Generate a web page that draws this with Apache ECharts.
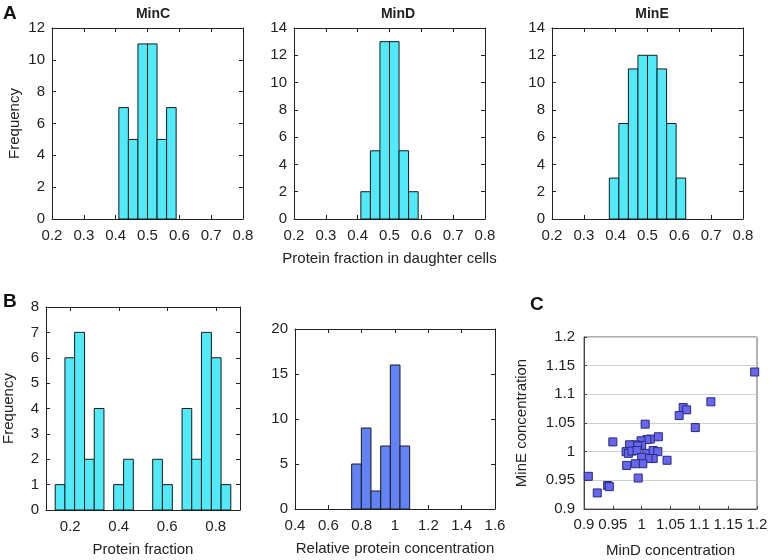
<!DOCTYPE html>
<html>
<head>
<meta charset="utf-8">
<script src="https://cdn.jsdelivr.net/npm/echarts@6/dist/echarts.min.js"></script>
<style>html,body{margin:0;padding:0;background:#fff}#c{width:771px;height:560px}</style>
</head>
<body>
<div id="c"></div>
<script>
// ---- data ----
var minCEdges = [0.41, 0.44, 0.47, 0.50, 0.53, 0.56, 0.59];
var minCCounts = [7, 5, 11, 11, 5, 7];
var minDEdges = [0.41, 0.44, 0.47, 0.50, 0.53, 0.56, 0.59];
var minDCounts = [2, 5, 13, 13, 5, 2];
var minEEdges = [0.38, 0.41, 0.44, 0.47, 0.50, 0.53, 0.56, 0.59, 0.62];
var minECounts = [3, 7, 11, 12, 12, 11, 7, 3];
var fracEdges = [0.138, 0.178, 0.218, 0.259, 0.299, 0.339, 0.379, 0.420, 0.460, 0.500, 0.540, 0.580, 0.621, 0.661, 0.701, 0.741, 0.782, 0.822, 0.862];
var fracCounts = [1, 6, 7, 2, 4, 0, 1, 2, 0, 0, 2, 1, 0, 4, 2, 7, 6, 1];
var concEdges = [0.74, 0.798, 0.856, 0.914, 0.972, 1.03, 1.088];
var concCounts = [5, 9, 2, 7, 16, 7];
var minDConc = [1.196, 1.12, 1.072, 1.078, 1.065, 1.093, 1.006, 0.95, 1.029, 1.015, 1.009, 0.999, 1.0, 0.989, 0.993, 0.979, 0.973, 0.977, 0.983, 0.992, 1.009, 1.02, 1.028, 1.02, 1.011, 1.0, 1.002, 0.989, 0.974, 1.044, 0.994, 0.9075, 0.941, 0.944, 0.923];
var minEConc = [1.139, 1.087, 1.077, 1.073, 1.063, 1.042, 1.048, 1.017, 1.026, 1.022, 1.021, 1.019, 1.011, 1.012, 1.010, 1.012, 1.0, 0.997, 1.001, 1.002, 0.997, 1.002, 1.0, 0.988, 0.988, 0.990, 0.979, 0.979, 0.976, 0.985, 0.954, 0.957, 0.941, 0.939, 0.928];
var fracTicksX = [0.2, 0.4, 0.6, 0.8];

var CYAN = '#52EAF9';
var BLUE = '#6382F6';
var TXT = '#222';
var FONT = 'Liberation Sans, Arial, sans-serif';

function histData(edges, counts) {
  var d = [];
  for (var i = 0; i < counts.length; i++) {
    if (counts[i] > 0) d.push([edges[i], edges[i + 1], counts[i]]);
  }
  return d;
}
function histSeries(idx, edges, counts, color) {
  return {
    type: 'custom', xAxisIndex: idx * 2, yAxisIndex: idx * 2,
    encode: { x: [0, 1], y: 2 },
    data: histData(edges, counts),
    renderItem: function (params, api) {
      var p0 = api.coord([api.value(0), api.value(2)]);
      var p1 = api.coord([api.value(1), 0]);
      return { type: 'rect', shape: { x: p0[0], y: p0[1], width: p1[0] - p0[0], height: p1[1] - p0[1] },
        style: { fill: color, stroke: '#1a1a1a', lineWidth: 1 } };
    },
    silent: true, animation: false
  };
}

var grids = [
  { left: 52, top: 28, width: 191, height: 191 },
  { left: 294, top: 28, width: 191, height: 191 },
  { left: 552, top: 28, width: 191, height: 191 },
  { left: 44, top: 307, width: 196, height: 203 },
  { left: 295, top: 329, width: 200, height: 180 },
  { left: 584, top: 337, width: 173, height: 172, show: true, borderColor: '#666', borderWidth: 1 }
];

var lineStyle = { color: '#222', width: 1 };
var tickStyle = { inside: true, length: 4, lineStyle: { color: '#222' } };

var xAxes = [], yAxes = [];
function addHistAxes(g, xmin, xmax, xint, xCustom, ymax, yint, xName, yName) {
  var xl = { show: true, color: TXT, fontSize: 15, fontFamily: FONT, margin: 9 };
  var xt = { show: true, inside: true, length: 4, lineStyle: { color: '#222' } };
  if (xCustom) { xl.customValues = xCustom; xt.customValues = xCustom; }
  var xa = { type: 'value', gridIndex: g, min: xmin, max: xmax, position: 'bottom',
    axisLine: { show: true, onZero: false, lineStyle: lineStyle }, axisTick: xt, axisLabel: xl,
    splitLine: { show: false } };
  if (!xCustom) xa.interval = xint;
  if (xName) { xa.name = xName; xa.nameLocation = 'middle'; xa.nameGap = 32;
    xa.nameTextStyle = { color: TXT, fontSize: 15, fontFamily: FONT }; }
  xAxes.push(xa);
  var xt2 = { show: true, inside: true, length: 4, lineStyle: { color: '#222' } };
  if (xCustom) xt2.customValues = xCustom;
  var xb = { type: 'value', gridIndex: g, min: xmin, max: xmax, position: 'top',
    axisLine: { show: true, onZero: false, lineStyle: lineStyle }, axisTick: xt2,
    axisLabel: { show: false }, splitLine: { show: false } };
  if (!xCustom) xb.interval = xint;
  xAxes.push(xb);
  var ya = { type: 'value', gridIndex: g, min: 0, max: ymax, interval: yint, position: 'left',
    axisLine: { show: true, onZero: false, lineStyle: lineStyle }, axisTick: tickStyle,
    axisLabel: { color: TXT, fontSize: 15, fontFamily: FONT, margin: 7 }, splitLine: { show: false } };
  if (yName) { ya.name = yName; ya.nameLocation = 'middle'; ya.nameGap = 30;
    ya.nameTextStyle = { color: TXT, fontSize: 15, fontFamily: FONT }; }
  yAxes.push(ya);
  yAxes.push({ type: 'value', gridIndex: g, min: 0, max: ymax, interval: yint, position: 'right',
    axisLine: { show: true, onZero: false, lineStyle: lineStyle }, axisTick: tickStyle,
    axisLabel: { show: false }, splitLine: { show: false } });
}

addHistAxes(0, 0.2, 0.8, 0.1, null, 12, 2, null, 'Frequency');
addHistAxes(1, 0.2, 0.8, 0.1, null, 14, 2, 'Protein fraction in daughter cells', null);
addHistAxes(2, 0.2, 0.8, 0.1, null, 14, 2, null, null);
addHistAxes(3, 0.1, 0.9, 0.2, fracTicksX, 8, 1, 'Protein fraction', 'Frequency');
addHistAxes(4, 0.4, 1.6, 0.2, null, 20, 5, 'Relative protein concentration', null);

// panel C
xAxes.push({ type: 'value', gridIndex: 5, min: 0.9, max: 1.2, interval: 0.05, position: 'bottom',
  axisLine: { show: true, onZero: false, lineStyle: { color: '#444' } },
  axisTick: { inside: true, length: 3, lineStyle: { color: '#444' } },
  axisLabel: { color: TXT, fontSize: 15, fontFamily: FONT, margin: 8 },
  splitLine: { show: false },
  name: 'MinD concentration', nameLocation: 'middle', nameGap: 34,
  nameTextStyle: { color: TXT, fontSize: 15, fontFamily: FONT } });
yAxes.push({ type: 'value', gridIndex: 5, min: 0.9, max: 1.2, interval: 0.05, position: 'left',
  axisLine: { show: true, onZero: false, lineStyle: { color: '#444' } },
  axisTick: { inside: true, length: 3, lineStyle: { color: '#444' } },
  axisLabel: { color: TXT, fontSize: 15, fontFamily: FONT, margin: 9 },
  splitLine: { show: true, lineStyle: { color: '#cfcfcf', width: 1 } },
  name: 'MinE concentration', nameLocation: 'middle', nameGap: 55,
  nameTextStyle: { color: TXT, fontSize: 15, fontFamily: FONT } });

var scatterData = minDConc.map(function (x, i) { return [x, minEConc[i]]; });

var series = [
  histSeries(0, minCEdges, minCCounts, CYAN),
  histSeries(1, minDEdges, minDCounts, CYAN),
  histSeries(2, minEEdges, minECounts, CYAN),
  histSeries(3, fracEdges, fracCounts, CYAN),
  histSeries(4, concEdges, concCounts, BLUE),
  { type: 'scatter', xAxisIndex: 10, yAxisIndex: 10, data: scatterData, symbol: 'rect', symbolSize: 8,
    itemStyle: { color: '#6666EE', borderColor: '#2a2a7a', borderWidth: 1, opacity: 1 }, silent: true, animation: false }
];

var titleStyle = { color: TXT, fontSize: 14, fontWeight: 'bold', fontFamily: FONT };
var option = {
  backgroundColor: '#fff',
  animation: false,
  grid: grids,
  xAxis: xAxes,
  yAxis: yAxes,
  series: series,
  title: [
    { text: 'MinC', left: 148, top: 2, textAlign: 'center', textStyle: titleStyle },
    { text: 'MinD', left: 393, top: 2, textAlign: 'center', textStyle: titleStyle },
    { text: 'MinE', left: 647, top: 2, textAlign: 'center', textStyle: titleStyle }
  ],
  graphic: [
    { type: 'text', left: 3, top: 4, style: { text: 'A', fontSize: 19, fontWeight: 'bold', fontFamily: FONT, fill: '#111' } },
    { type: 'text', left: 3, top: 292, style: { text: 'B', fontSize: 19, fontWeight: 'bold', fontFamily: FONT, fill: '#111' } },
    { type: 'text', left: 530, top: 295, style: { text: 'C', fontSize: 19, fontWeight: 'bold', fontFamily: FONT, fill: '#111' } }
  ]
};
var chart = echarts.init(document.getElementById('c'), null, { renderer: 'canvas' });
chart.setOption(option);
</script>
</body>
</html>
